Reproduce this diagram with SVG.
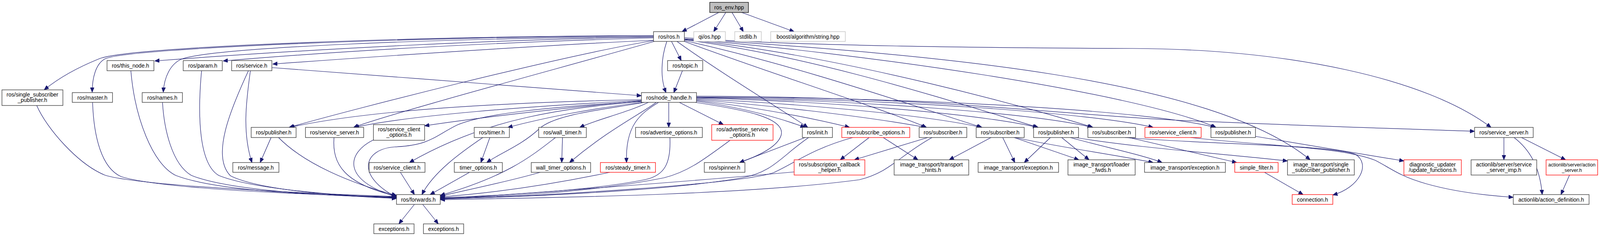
<svg xmlns="http://www.w3.org/2000/svg" width="4177" height="604" viewBox="0 0 4177 604" style="display:block">
<style>
html,body{margin:0;padding:0;overflow:hidden}
.n rect{fill:#fff;stroke:#333;stroke-width:1.3}
.r rect{fill:#fff;stroke:#ff0000;stroke-width:1.3}
.g rect{fill:#fff;stroke:#bfbfbf;stroke-width:1.3}
.root rect{fill:#bfbfbf;stroke:#000;stroke-width:1.3}
text{font-family:"Liberation Sans",Arial,sans-serif;font-size:14px;text-anchor:middle;fill:#000}
#n_as text{font-size:12.5px}
#edges path{fill:none;stroke:#191970;stroke-width:1.2;marker-end:url(#a)}
</style>
<defs>
<marker id="a" viewBox="0 0 12 10" refX="12" refY="5" markerWidth="12" markerHeight="10" markerUnits="userSpaceOnUse" orient="auto">
<path d="M0,0 L12,5 L0,10 z" fill="#191970" stroke="#191970"/>
</marker>
</defs>
<rect width="4177" height="604" fill="#fff"/>
<g id="edges">
<path d="M1840,32 L1746,81"/>
<path d="M1858,32 L1827,81"/>
<path d="M1874,32 L1903,81"/>
<path d="M1899,32 L2033,81"/>
<path d="M1673,95 C1300,100 800,125 396,156"/>
<path d="M1673,97 C1300,107 900,128 571,156"/>
<path d="M1673,103 C1350,118 1000,142 698,164"/>
<path d="M1673,94 C1100,98 560,122 468,150 C435,162 420,200 418,236"/>
<path d="M1673,92 C1100,93 340,122 270,150 C245,162 236,200 236,236"/>
<path d="M1673,91 C1100,92 340,118 255,150 C200,172 150,200 113,230"/>
<path d="M1673,104 C1450,140 900,280 740,326"/>
<path d="M1675,106 C1450,170 1000,290 905,326"/>
<path d="M1719,106 L1744,155"/>
<path d="M1707,106 C1692,150 1690,200 1705,237"/>
<path d="M1733,106 C1850,190 2000,280 2068,326"/>
<path d="M1752,106 C1950,180 2250,275 2372,326"/>
<path d="M1752,104 C2050,170 2350,275 2514,326"/>
<path d="M1752,102 C2100,145 2500,280 2658,326"/>
<path d="M1752,101 C2150,140 2650,280 2798,326"/>
<path d="M1752,100 C2200,135 2900,235 3113,326"/>
<path d="M1752,99 C2400,140 3100,200 3354,409"/>
<path d="M1752,96 C2000,118 2600,123 2900,124 C3300,126 3650,200 3817,326"/>
<path d="M696,173 C1000,195 1400,228 1642,245"/>
<path d="M1747,181 L1725,237"/>
<path d="M1642,255 C1300,262 950,280 742,326"/>
<path d="M1642,257 C1350,272 1050,295 907,326"/>
<path d="M1642,258 C1400,280 1200,305 1087,322"/>
<path d="M1642,259 C1400,275 1240,290 1170,320 C1110,350 1100,372 1010,376 C930,382 910,450 1015,505"/>
<path d="M1643,260 C1450,276 1250,300 1048,416"/>
<path d="M1645,262 C1500,280 1400,300 1300,326"/>
<path d="M1650,262 C1550,280 1420,292 1380,330 C1335,372 1280,392 1246,416"/>
<path d="M1660,262 C1600,290 1530,305 1484,326"/>
<path d="M1680,262 C1640,292 1560,330 1458,416"/>
<path d="M1686,262 C1640,290 1600,320 1604,416"/>
<path d="M1712,262 L1712,326"/>
<path d="M1739,262 L1852,319"/>
<path d="M1783,259 C1900,275 1990,300 2061,326"/>
<path d="M1780,262 C1900,280 2010,300 2000,345 C1992,375 1945,398 1893,416"/>
<path d="M1783,257 C1900,270 2050,295 2175,326"/>
<path d="M1783,255 C1950,268 2200,295 2370,326"/>
<path d="M1783,253 C2000,263 2350,290 2512,326"/>
<path d="M1783,251 C2100,258 2500,290 2656,326"/>
<path d="M1783,250 C2200,256 2650,290 2796,326"/>
<path d="M1783,249 C2300,253 2800,290 2952,326"/>
<path d="M1783,248 C2400,250 2950,285 3111,326"/>
<path d="M1783,246 C2400,248 2700,292 3000,307 C3300,321 3600,330 3775,336"/>
<path d="M94,270 C120,330 200,420 268,448 C340,472 700,492 1015,503"/>
<path d="M237,262 C240,350 260,430 310,452 C400,480 700,496 1015,504"/>
<path d="M335,181 C345,300 390,420 450,449 C550,488 800,500 1015,505"/>
<path d="M416,262 C420,330 440,420 490,449 C580,485 800,500 1015,506"/>
<path d="M516,181 C505,300 510,420 560,449 C640,482 850,500 1015,507"/>
<path d="M636,181 C590,280 540,400 590,450 C660,485 850,501 1015,508"/>
<path d="M641,181 C630,260 620,340 645,416"/>
<path d="M694,352 L666,416"/>
<path d="M713,352 C780,420 900,470 1015,500"/>
<path d="M855,352 C850,420 880,470 1015,502"/>
<path d="M956,358 C890,390 870,460 1015,504"/>
<path d="M1025,441 L1061,498"/>
<path d="M1236,352 C1180,390 1110,440 1080,498"/>
<path d="M1254,352 L1231,416"/>
<path d="M1202,441 L1101,498"/>
<path d="M1440,352 L1438,416"/>
<path d="M1422,352 C1360,400 1300,450 1127,500"/>
<path d="M1383,441 C1300,465 1200,485 1127,502"/>
<path d="M1561,441 C1400,475 1250,495 1127,504"/>
<path d="M1715,352 C1718,420 1700,450 1650,460 C1500,490 1250,502 1127,506"/>
<path d="M1869,359 C1800,410 1760,440 1700,455 C1500,495 1250,505 1127,507"/>
<path d="M2061,352 L1893,416"/>
<path d="M2070,352 C2000,400 1980,440 1900,455 C1700,490 1300,506 1127,508"/>
<path d="M2225,352 L2151,409"/>
<path d="M2261,352 L2350,409"/>
<path d="M2183,352 C2080,380 2030,420 1980,442 C1900,470 1400,502 1127,509"/>
<path d="M2033,440 C1700,470 1300,498 1127,510"/>
<path d="M2375,352 L2187,409"/>
<path d="M2386,352 C2300,400 2280,440 2200,460 C1900,500 1400,506 1127,511"/>
<path d="M2537,352 L2430,409"/>
<path d="M2567,352 L2598,416"/>
<path d="M2596,352 L2762,409"/>
<path d="M2600,352 C2700,375 2850,395 2952,416"/>
<path d="M2689,352 L2622,416"/>
<path d="M2718,352 L2788,409"/>
<path d="M2740,352 C2820,375 2920,395 2975,416"/>
<path d="M2742,350 C2900,378 3150,395 3296,412"/>
<path d="M2890,352 L3166,416"/>
<path d="M2880,352 C3100,370 3400,370 3470,395 C3510,420 3480,480 3412,499"/>
<path d="M3048,352 C3250,375 3430,375 3520,410 C3560,430 3580,450 3650,470 C3720,490 3800,500 3874,505"/>
<path d="M3237,441 L3336,498"/>
<path d="M3214,349 L3594,412"/>
<path d="M3850,352 L3850,409"/>
<path d="M3876,352 C3915,382 3942,425 3948,498"/>
<path d="M3895,352 L4008,409"/>
<path d="M4018,448 L3996,498"/>
<path d="M1061,523 L1021,573"/>
<path d="M1082,523 L1122,573"/>
</g>
<g id="n_ros_env" class="root"><rect x="1817" y="6" width="99" height="26"/><text x="1866.5" y="24">ros_env.hpp</text></g>
<g id="n_ros_h" class="n"><rect x="1673" y="81" width="79" height="25"/><text x="1712.5" y="98.5">ros/ros.h</text></g>
<g id="n_qi_os" class="g"><rect x="1776" y="81" width="81" height="25"/><text x="1816.5" y="98.5">qi/os.hpp</text></g>
<g id="n_stdlib" class="g"><rect x="1881" y="81" width="68" height="25"/><text x="1915" y="98.5">stdlib.h</text></g>
<g id="n_boost" class="g"><rect x="1973" y="81" width="191" height="25"/><text x="2068.5" y="98.5">boost/algorithm/string.hpp</text></g>
<g id="n_this_node" class="n"><rect x="274" y="155" width="120" height="26"/><text x="334" y="173">ros/this_node.h</text></g>
<g id="n_param" class="n"><rect x="469" y="155" width="100" height="26"/><text x="519" y="173">ros/param.h</text></g>
<g id="n_service" class="n"><rect x="593" y="155" width="103" height="26"/><text x="644.5" y="173">ros/service.h</text></g>
<g id="n_topic" class="n"><rect x="1709" y="155" width="90" height="26"/><text x="1754" y="173">ros/topic.h</text></g>
<g id="n_single" class="n"><rect x="5" y="230" width="156" height="40"/><text x="83" y="247">ros/single_subscriber</text><text x="83" y="261">_publisher.h</text></g>
<g id="n_master" class="n"><rect x="185" y="237" width="103" height="25"/><text x="236.5" y="254.5">ros/master.h</text></g>
<g id="n_names" class="n"><rect x="364" y="237" width="103" height="25"/><text x="415.5" y="254.5">ros/names.h</text></g>
<g id="n_node_handle" class="n"><rect x="1642" y="237" width="141" height="25"/><text x="1712.5" y="254.5">ros/node_handle.h</text></g>
<g id="n_pub1" class="n"><rect x="643" y="326" width="115" height="26"/><text x="700.5" y="344">ros/publisher.h</text></g>
<g id="n_ss1" class="n"><rect x="782" y="326" width="149" height="26"/><text x="856.5" y="344">ros/service_server.h</text></g>
<g id="n_sco" class="n"><rect x="956" y="319" width="131" height="40"/><text x="1021.5" y="336">ros/service_client</text><text x="1021.5" y="350">_options.h</text></g>
<g id="n_timer" class="n"><rect x="1214" y="326" width="90" height="26"/><text x="1259" y="344">ros/timer.h</text></g>
<g id="n_wall_timer" class="n"><rect x="1379" y="326" width="122" height="26"/><text x="1440" y="344">ros/wall_timer.h</text></g>
<g id="n_adv_opt" class="n"><rect x="1627" y="326" width="171" height="26"/><text x="1712.5" y="344">ros/advertise_options.h</text></g>
<g id="n_adv_srv" class="r"><rect x="1822" y="319" width="157" height="40"/><text x="1900.5" y="336">ros/advertise_service</text><text x="1900.5" y="350">_options.h</text></g>
<g id="n_init" class="n"><rect x="2054" y="326" width="77" height="26"/><text x="2092.5" y="344">ros/init.h</text></g>
<g id="n_sub_opt" class="r"><rect x="2155" y="326" width="174" height="26"/><text x="2242" y="344">ros/subscribe_options.h</text></g>
<g id="n_sub1" class="n"><rect x="2353" y="326" width="122" height="26"/><text x="2414" y="344">ros/subscriber.h</text></g>
<g id="n_sub2" class="n"><rect x="2499" y="326" width="123" height="26"/><text x="2560.5" y="344">ros/subscriber.h</text></g>
<g id="n_pub2" class="n"><rect x="2646" y="326" width="115" height="26"/><text x="2703.5" y="344">ros/publisher.h</text></g>
<g id="n_sub3" class="n"><rect x="2785" y="326" width="122" height="26"/><text x="2846" y="344">ros/subscriber.h</text></g>
<g id="n_sc_red" class="r"><rect x="2931" y="326" width="144" height="26"/><text x="3003" y="344">ros/service_client.h</text></g>
<g id="n_pub3" class="n"><rect x="3100" y="326" width="114" height="26"/><text x="3157" y="344">ros/publisher.h</text></g>
<g id="n_ss2" class="n"><rect x="3775" y="326" width="150" height="26"/><text x="3850" y="344">ros/service_server.h</text></g>
<g id="n_message" class="n"><rect x="596" y="416" width="118" height="25"/><text x="655" y="433.5">ros/message.h</text></g>
<g id="n_sc" class="n"><rect x="945" y="416" width="143" height="25"/><text x="1016.5" y="433.5">ros/service_client.h</text></g>
<g id="n_timer_opt" class="n"><rect x="1163" y="416" width="123" height="25"/><text x="1224.5" y="433.5">timer_options.h</text></g>
<g id="n_wall_opt" class="n"><rect x="1360" y="416" width="152" height="25"/><text x="1436" y="433.5">wall_timer_options.h</text></g>
<g id="n_steady" class="r"><rect x="1537" y="416" width="141" height="25"/><text x="1607.5" y="433.5">ros/steady_timer.h</text></g>
<g id="n_spinner" class="n"><rect x="1803" y="416" width="104" height="25"/><text x="1855" y="433.5">ros/spinner.h</text></g>
<g id="n_helper" class="r"><rect x="2033" y="409" width="181" height="39"/><text x="2123.5" y="426">ros/subscription_callback</text><text x="2123.5" y="440">_helper.h</text></g>
<g id="n_hints" class="n"><rect x="2289" y="409" width="191" height="39"/><text x="2384.5" y="426">image_transport/transport</text><text x="2384.5" y="440">_hints.h</text></g>
<g id="n_exc1" class="n"><rect x="2504" y="416" width="206" height="25"/><text x="2607" y="433.5">image_transport/exception.h</text></g>
<g id="n_loader" class="n"><rect x="2734" y="409" width="172" height="39"/><text x="2820" y="426">image_transport/loader</text><text x="2820" y="440">_fwds.h</text></g>
<g id="n_exc2" class="n"><rect x="2930" y="416" width="207" height="25"/><text x="3033.5" y="433.5">image_transport/exception.h</text></g>
<g id="n_simple" class="r"><rect x="3161" y="416" width="111" height="25"/><text x="3216.5" y="433.5">simple_filter.h</text></g>
<g id="n_ssp" class="n"><rect x="3296" y="409" width="171" height="39"/><text x="3381.5" y="426">image_transport/single</text><text x="3381.5" y="440">_subscriber_publisher.h</text></g>
<g id="n_diag" class="r"><rect x="3594" y="409" width="147" height="39"/><text x="3667.5" y="426">diagnostic_updater</text><text x="3667.5" y="440">/update_functions.h</text></g>
<g id="n_ssimp" class="n"><rect x="3766" y="409" width="168" height="39"/><text x="3850" y="426">actionlib/server/service</text><text x="3850" y="440">_server_imp.h</text></g>
<g id="n_as" class="r"><rect x="3958" y="409" width="132" height="39"/><text x="4024" y="426">actionlib/server/action</text><text x="4024" y="440">_server.h</text></g>
<g id="n_forwards" class="n"><rect x="1015" y="498" width="112" height="25"/><text x="1071" y="515.5">ros/forwards.h</text></g>
<g id="n_connection" class="r"><rect x="3308" y="498" width="104" height="25"/><text x="3360" y="515.5">connection.h</text></g>
<g id="n_action_def" class="n"><rect x="3874" y="498" width="194" height="25"/><text x="3971" y="515.5">actionlib/action_definition.h</text></g>
<g id="n_exc_a" class="n"><rect x="957" y="573" width="103" height="25"/><text x="1008.5" y="590.5">exceptions.h</text></g>
<g id="n_exc_b" class="n"><rect x="1084" y="573" width="103" height="25"/><text x="1135.5" y="590.5">exceptions.h</text></g>
</svg>
